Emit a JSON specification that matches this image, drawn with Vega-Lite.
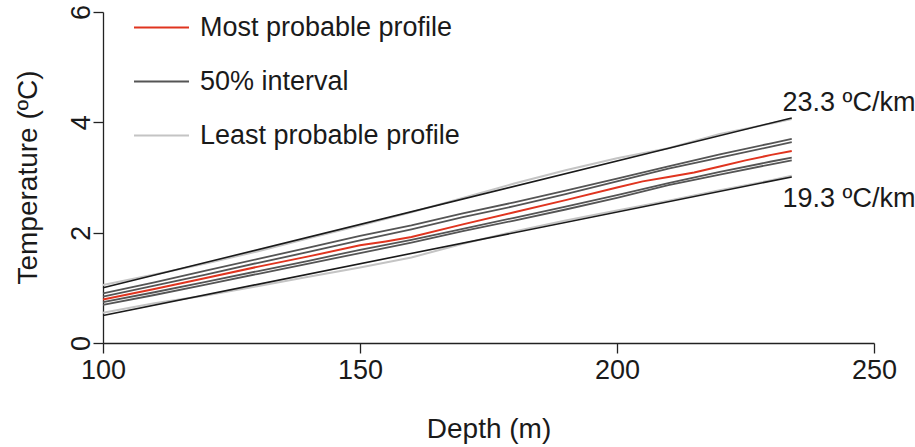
{
  "$schema": "https://vega.github.io/schema/vega-lite/v6.json",
  "autosize": {"type": "none"},
  "width": 771,
  "height": 331,
  "padding": {"left": 103, "top": 12, "right": 41, "bottom": 104},
  "background": "white",
  "config": {
    "view": {"stroke": null},
    "font": "Liberation Sans",
    "axis": {
      "grid": false,
      "domainColor": "#222222",
      "tickColor": "#222222",
      "domainWidth": 1.3,
      "tickWidth": 1.3,
      "tickSize": 10,
      "labelFont": "Liberation Sans",
      "labelFontSize": 27,
      "labelColor": "#1a1a1a",
      "titleFont": "Liberation Sans",
      "titleFontSize": 28,
      "titleFontWeight": "normal",
      "titleColor": "#1a1a1a"
    }
  },
  "data": {
    "values": [
      {"series": "lh1", "type": "Least probable profile", "depth": 100, "temp": 1.05},
      {"series": "lh1", "type": "Least probable profile", "depth": 110, "temp": 1.24},
      {"series": "lh1", "type": "Least probable profile", "depth": 120, "temp": 1.44},
      {"series": "lh1", "type": "Least probable profile", "depth": 130, "temp": 1.66},
      {"series": "lh1", "type": "Least probable profile", "depth": 140, "temp": 1.9},
      {"series": "lh1", "type": "Least probable profile", "depth": 150, "temp": 2.13},
      {"series": "lh1", "type": "Least probable profile", "depth": 160, "temp": 2.37},
      {"series": "lh1", "type": "Least probable profile", "depth": 170, "temp": 2.63},
      {"series": "lh1", "type": "Least probable profile", "depth": 180, "temp": 2.89},
      {"series": "lh1", "type": "Least probable profile", "depth": 190, "temp": 3.13},
      {"series": "lh1", "type": "Least probable profile", "depth": 200, "temp": 3.35},
      {"series": "lh1", "type": "Least probable profile", "depth": 210, "temp": 3.53},
      {"series": "lh1", "type": "Least probable profile", "depth": 220, "temp": 3.79},
      {"series": "lh1", "type": "Least probable profile", "depth": 230, "temp": 3.98},
      {"series": "lh1", "type": "Least probable profile", "depth": 234, "temp": 4.06},
      {"series": "ll1", "type": "Least probable profile", "depth": 100, "temp": 0.55},
      {"series": "ll1", "type": "Least probable profile", "depth": 110, "temp": 0.72},
      {"series": "ll1", "type": "Least probable profile", "depth": 120, "temp": 0.86},
      {"series": "ll1", "type": "Least probable profile", "depth": 130, "temp": 1.03},
      {"series": "ll1", "type": "Least probable profile", "depth": 140, "temp": 1.2},
      {"series": "ll1", "type": "Least probable profile", "depth": 150, "temp": 1.37},
      {"series": "ll1", "type": "Least probable profile", "depth": 160, "temp": 1.55},
      {"series": "ll1", "type": "Least probable profile", "depth": 170, "temp": 1.8},
      {"series": "ll1", "type": "Least probable profile", "depth": 180, "temp": 2.02},
      {"series": "ll1", "type": "Least probable profile", "depth": 190, "temp": 2.22},
      {"series": "ll1", "type": "Least probable profile", "depth": 200, "temp": 2.4},
      {"series": "ll1", "type": "Least probable profile", "depth": 210, "temp": 2.58},
      {"series": "ll1", "type": "Least probable profile", "depth": 220, "temp": 2.77},
      {"series": "ll1", "type": "Least probable profile", "depth": 230, "temp": 2.95},
      {"series": "ll1", "type": "Least probable profile", "depth": 234, "temp": 3.03},
      {"series": "iqa", "type": "50% interval", "depth": 100, "temp": 0.9},
      {"series": "iqa", "type": "50% interval", "depth": 110, "temp": 1.1},
      {"series": "iqa", "type": "50% interval", "depth": 120, "temp": 1.31},
      {"series": "iqa", "type": "50% interval", "depth": 130, "temp": 1.52},
      {"series": "iqa", "type": "50% interval", "depth": 140, "temp": 1.73},
      {"series": "iqa", "type": "50% interval", "depth": 150, "temp": 1.94},
      {"series": "iqa", "type": "50% interval", "depth": 160, "temp": 2.13},
      {"series": "iqa", "type": "50% interval", "depth": 170, "temp": 2.35},
      {"series": "iqa", "type": "50% interval", "depth": 180, "temp": 2.55},
      {"series": "iqa", "type": "50% interval", "depth": 190, "temp": 2.76},
      {"series": "iqa", "type": "50% interval", "depth": 200, "temp": 2.98},
      {"series": "iqa", "type": "50% interval", "depth": 210, "temp": 3.2},
      {"series": "iqa", "type": "50% interval", "depth": 220, "temp": 3.42},
      {"series": "iqa", "type": "50% interval", "depth": 230, "temp": 3.62},
      {"series": "iqa", "type": "50% interval", "depth": 234, "temp": 3.7},
      {"series": "iqb", "type": "50% interval", "depth": 100, "temp": 0.84},
      {"series": "iqb", "type": "50% interval", "depth": 110, "temp": 1.04},
      {"series": "iqb", "type": "50% interval", "depth": 120, "temp": 1.24},
      {"series": "iqb", "type": "50% interval", "depth": 130, "temp": 1.45},
      {"series": "iqb", "type": "50% interval", "depth": 140, "temp": 1.65},
      {"series": "iqb", "type": "50% interval", "depth": 150, "temp": 1.86},
      {"series": "iqb", "type": "50% interval", "depth": 160, "temp": 2.06},
      {"series": "iqb", "type": "50% interval", "depth": 170, "temp": 2.28},
      {"series": "iqb", "type": "50% interval", "depth": 180, "temp": 2.48},
      {"series": "iqb", "type": "50% interval", "depth": 190, "temp": 2.7},
      {"series": "iqb", "type": "50% interval", "depth": 200, "temp": 2.93},
      {"series": "iqb", "type": "50% interval", "depth": 210, "temp": 3.16},
      {"series": "iqb", "type": "50% interval", "depth": 220, "temp": 3.36},
      {"series": "iqb", "type": "50% interval", "depth": 230, "temp": 3.56},
      {"series": "iqb", "type": "50% interval", "depth": 234, "temp": 3.64},
      {"series": "iqc", "type": "50% interval", "depth": 100, "temp": 0.74},
      {"series": "iqc", "type": "50% interval", "depth": 110, "temp": 0.92},
      {"series": "iqc", "type": "50% interval", "depth": 120, "temp": 1.11},
      {"series": "iqc", "type": "50% interval", "depth": 130, "temp": 1.3},
      {"series": "iqc", "type": "50% interval", "depth": 140, "temp": 1.49},
      {"series": "iqc", "type": "50% interval", "depth": 150, "temp": 1.69},
      {"series": "iqc", "type": "50% interval", "depth": 160, "temp": 1.87},
      {"series": "iqc", "type": "50% interval", "depth": 170, "temp": 2.07},
      {"series": "iqc", "type": "50% interval", "depth": 180, "temp": 2.27},
      {"series": "iqc", "type": "50% interval", "depth": 190, "temp": 2.47},
      {"series": "iqc", "type": "50% interval", "depth": 200, "temp": 2.68},
      {"series": "iqc", "type": "50% interval", "depth": 210, "temp": 2.9},
      {"series": "iqc", "type": "50% interval", "depth": 220, "temp": 3.1},
      {"series": "iqc", "type": "50% interval", "depth": 230, "temp": 3.29},
      {"series": "iqc", "type": "50% interval", "depth": 234, "temp": 3.36},
      {"series": "iqd", "type": "50% interval", "depth": 100, "temp": 0.69},
      {"series": "iqd", "type": "50% interval", "depth": 110, "temp": 0.87},
      {"series": "iqd", "type": "50% interval", "depth": 120, "temp": 1.06},
      {"series": "iqd", "type": "50% interval", "depth": 130, "temp": 1.25},
      {"series": "iqd", "type": "50% interval", "depth": 140, "temp": 1.44},
      {"series": "iqd", "type": "50% interval", "depth": 150, "temp": 1.63},
      {"series": "iqd", "type": "50% interval", "depth": 160, "temp": 1.82},
      {"series": "iqd", "type": "50% interval", "depth": 170, "temp": 2.03},
      {"series": "iqd", "type": "50% interval", "depth": 180, "temp": 2.22},
      {"series": "iqd", "type": "50% interval", "depth": 190, "temp": 2.42},
      {"series": "iqd", "type": "50% interval", "depth": 200, "temp": 2.63},
      {"series": "iqd", "type": "50% interval", "depth": 210, "temp": 2.86},
      {"series": "iqd", "type": "50% interval", "depth": 220, "temp": 3.05},
      {"series": "iqd", "type": "50% interval", "depth": 230, "temp": 3.24},
      {"series": "iqd", "type": "50% interval", "depth": 234, "temp": 3.31},
      {"series": "bhi", "type": "bound", "depth": 100, "temp": 1.0},
      {"series": "bhi", "type": "bound", "depth": 234, "temp": 4.08},
      {"series": "blo", "type": "bound", "depth": 100, "temp": 0.5},
      {"series": "blo", "type": "bound", "depth": 234, "temp": 3.01},
      {"series": "most", "type": "Most probable profile", "depth": 100, "temp": 0.79},
      {"series": "most", "type": "Most probable profile", "depth": 110, "temp": 0.98},
      {"series": "most", "type": "Most probable profile", "depth": 120, "temp": 1.18},
      {"series": "most", "type": "Most probable profile", "depth": 130, "temp": 1.38},
      {"series": "most", "type": "Most probable profile", "depth": 140, "temp": 1.57},
      {"series": "most", "type": "Most probable profile", "depth": 150, "temp": 1.77},
      {"series": "most", "type": "Most probable profile", "depth": 155, "temp": 1.84},
      {"series": "most", "type": "Most probable profile", "depth": 160, "temp": 1.92},
      {"series": "most", "type": "Most probable profile", "depth": 170, "temp": 2.15},
      {"series": "most", "type": "Most probable profile", "depth": 180, "temp": 2.37},
      {"series": "most", "type": "Most probable profile", "depth": 190, "temp": 2.59},
      {"series": "most", "type": "Most probable profile", "depth": 200, "temp": 2.82},
      {"series": "most", "type": "Most probable profile", "depth": 205, "temp": 2.93},
      {"series": "most", "type": "Most probable profile", "depth": 210, "temp": 3.01},
      {"series": "most", "type": "Most probable profile", "depth": 215, "temp": 3.09},
      {"series": "most", "type": "Most probable profile", "depth": 220, "temp": 3.2},
      {"series": "most", "type": "Most probable profile", "depth": 225, "temp": 3.31},
      {"series": "most", "type": "Most probable profile", "depth": 230, "temp": 3.41},
      {"series": "most", "type": "Most probable profile", "depth": 234, "temp": 3.48}
    ]
  },
  "encoding": {
    "x": {
      "field": "depth", "type": "quantitative",
      "scale": {"domain": [100, 250], "nice": false, "zero": false},
      "axis": {
        "values": [100, 150, 200, 250],
        "title": "Depth (m)",
        "labelPadding": 4,
        "labelFlush": false,
        "titleX": 385.5, "titleY": 94, "titleBaseline": "alphabetic", "titleAnchor": "middle"
      }
    },
    "y": {
      "field": "temp", "type": "quantitative",
      "scale": {"domain": [0, 6], "nice": false},
      "axis": {
        "values": [0, 2, 4, 6],
        "title": "Temperature (ºC)",
        "labelAngle": 270,
        "labelAlign": "center",
        "labelBaseline": "alphabetic",
        "labelPadding": 4,
        "labelFlush": false,
        "titleAngle": 270,
        "titleBaseline": "alphabetic",
        "titleX": -67, "titleY": 165, "titleAnchor": "middle"
      }
    }
  },
  "layer": [
    {
      "transform": [{"filter": "datum.type === 'Least probable profile'"}],
      "mark": {"type": "line", "strokeWidth": 2},
      "encoding": {
        "detail": {"field": "series"},
        "color": {
          "field": "type", "type": "nominal",
          "scale": {
            "domain": ["Most probable profile", "50% interval", "Least probable profile"],
            "range": ["#e0341f", "#555555", "#c4c4c4"]
          },
          "legend": {
            "title": null,
            "orient": "none",
            "legendX": 30,
            "legendY": -13,
            "symbolType": "stroke",
            "symbolSize": 3025,
            "symbolStrokeWidth": 2,
            "labelFontSize": 27,
            "labelFont": "Liberation Sans",
            "labelColor": "#1a1a1a",
            "labelOffset": 10,
            "labelLimit": 400,
            "rowPadding": 12
          }
        }
      }
    },
    {
      "transform": [{"filter": "datum.type === '50% interval'"}],
      "mark": {"type": "line", "strokeWidth": 1.8},
      "encoding": {
        "detail": {"field": "series"},
        "color": {"field": "type", "type": "nominal"}
      }
    },
    {
      "transform": [{"filter": "datum.type === 'bound'"}],
      "mark": {"type": "line", "strokeWidth": 1.6, "color": "#1a1a1a"},
      "encoding": {
        "detail": {"field": "series"}
      }
    },
    {
      "transform": [{"filter": "datum.type === 'Most probable profile'"}],
      "mark": {"type": "line", "strokeWidth": 2},
      "encoding": {
        "detail": {"field": "series"},
        "color": {"field": "type", "type": "nominal"}
      }
    },
    {
      "data": {
        "values": [
          {"depth": 232.2, "temp": 4.21, "label": "23.3 ºC/km"},
          {"depth": 232.2, "temp": 2.46, "label": "19.3 ºC/km"}
        ]
      },
      "mark": {"type": "text", "align": "left", "baseline": "alphabetic", "fontSize": 27, "font": "Liberation Sans", "color": "#1a1a1a"},
      "encoding": {
        "text": {"field": "label"}
      }
    }
  ]
}
